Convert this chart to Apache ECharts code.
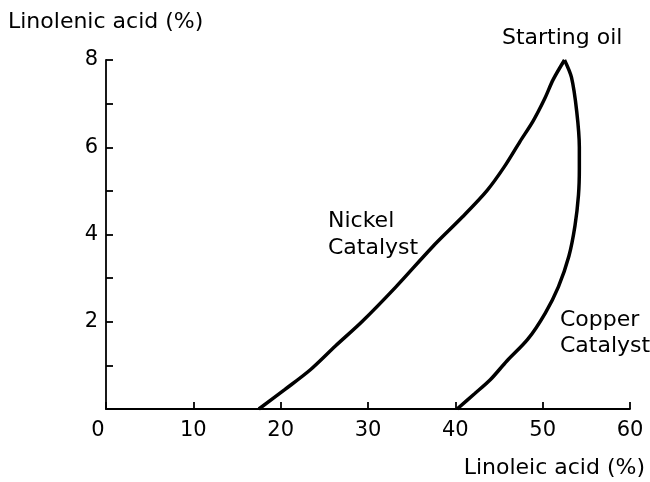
<!DOCTYPE html>
<html>
<head>
<meta charset="utf-8">
<script src="https://cdn.jsdelivr.net/npm/echarts@6/dist/echarts.min.js"></script>
<style>html,body{margin:0;padding:0;background:#fff}#c{width:650px;height:482px}</style>
</head>
<body>
<div id="c"></div>
<script>
var xTicks = [0, 10, 20, 30, 40, 50, 60];
var yTicks = [0, 2, 4, 6, 8];
var nickelLinoleic = [17.5, 20.5, 23.4, 26.3, 29.3, 33.2, 37.4, 40.8, 43.6, 45.6, 47.4, 48.9, 50.2, 51.2, 52.5];
var nickelLinolenic = [0, 0.45, 0.9, 1.45, 2.0, 2.8, 3.72, 4.4, 5.0, 5.55, 6.13, 6.6, 7.1, 7.55, 8.0];
var copperLinoleic = [40.2, 42.2, 44.0, 45.9, 48.3, 50.3, 51.8, 53.0, 53.7, 54.1, 54.2, 54.2, 53.9, 53.3, 52.5];
var copperLinolenic = [0, 0.35, 0.67, 1.1, 1.6, 2.2, 2.8, 3.5, 4.2, 4.9, 5.5, 6.0, 6.82, 7.6, 8.0];

function pairs(xs, ys) { return xs.map(function (x, i) { return [x, ys[i]]; }); }

var FONT = 'DejaVu Sans';
var chart = echarts.init(document.getElementById('c'), null, {renderer: 'canvas'});
chart.setOption({
  animation: false,
  grid: {left: 106, right: 20, top: 60, bottom: 73},
  xAxis: {
    type: 'value', min: xTicks[0], max: xTicks[xTicks.length - 1], interval: 10,
    axisLine: {lineStyle: {color: '#000', width: 1.8}},
    axisTick: {inside: true, length: 7, lineStyle: {color: '#000', width: 1.8}},
    axisLabel: {color: '#000', fontSize: 21, fontFamily: FONT, margin: 11,
      formatter: function (v) { return v === 0 ? '{z|0}' : String(v); },
      rich: {z: {fontSize: 21, fontFamily: FONT, color: '#000', padding: [0, 16, 0, 0]}}},
    splitLine: {show: false}
  },
  yAxis: {
    type: 'value', min: 0, max: yTicks[yTicks.length - 1], interval: 1,
    axisLine: {lineStyle: {color: '#000', width: 1.8}},
    axisTick: {inside: true, length: 7, lineStyle: {color: '#000', width: 1.8}},
    axisLabel: {color: '#000', fontSize: 21, fontFamily: FONT, margin: 8,
      formatter: function (v) { return (v % 2 === 0 && v !== 0) ? String(v) : ''; }},
    splitLine: {show: false}
  },
  series: [
    {type: 'line', data: pairs(nickelLinoleic, nickelLinolenic), smooth: 0.3, showSymbol: false,
      lineStyle: {color: '#000', width: 3.5}},
    {type: 'line', data: pairs(copperLinoleic, copperLinolenic), smooth: 0.3, showSymbol: false,
      lineStyle: {color: '#000', width: 3.5}}
  ],
  graphic: [
    {type: 'text', left: 8, top: 11, style: {text: 'Linolenic acid (%)', font: '22px ' + FONT, fill: '#000'}},
    {type: 'text', right: 5, top: 457, style: {text: 'Linoleic acid (%)', font: '22px ' + FONT, fill: '#000'}},
    {type: 'text', left: 502, top: 27, style: {text: 'Starting oil', font: '22px ' + FONT, fill: '#000'}},
    {type: 'text', left: 328, top: 208, style: {text: 'Nickel\nCatalyst', font: '22px ' + FONT, fill: '#000', lineHeight: 27}},
    {type: 'text', left: 560, top: 307, style: {text: 'Copper\nCatalyst', font: '22px ' + FONT, fill: '#000', lineHeight: 26}}
  ]
});
</script>
</body>
</html>
